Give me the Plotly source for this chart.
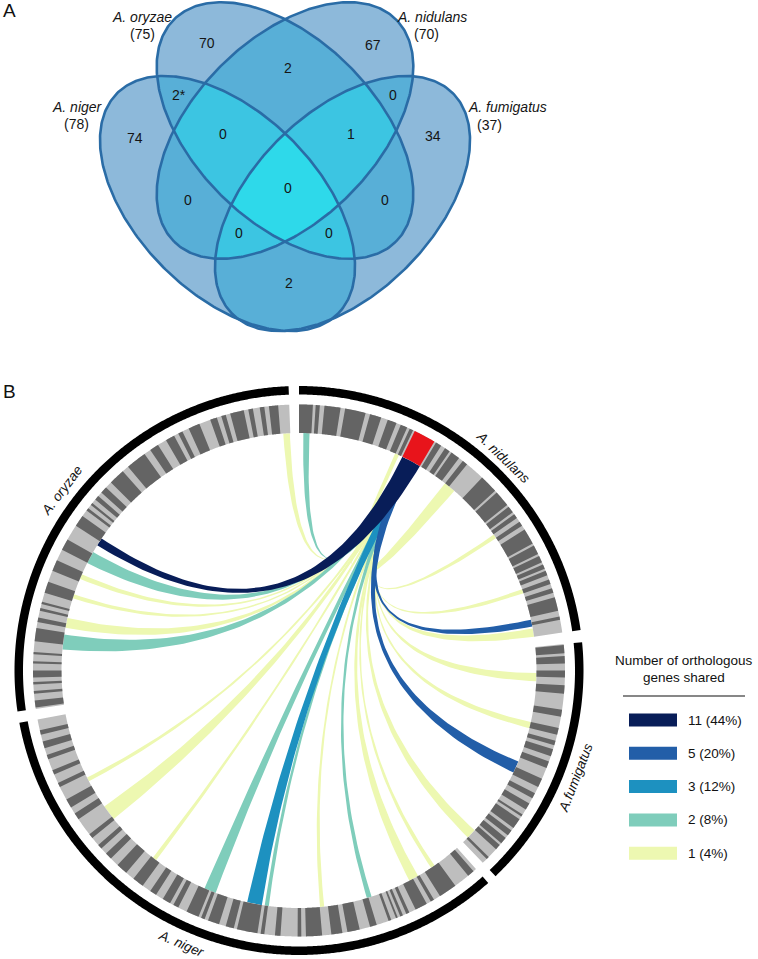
import numpy as np
import plotly.graph_objects as go

W, H = 758, 959

# ---------------- Panel A data (Venn) ----------------
venn_sets = ["A. niger", "A. oryzae", "A. nidulans", "A. fumigatus"]
venn_set_sizes = [78, 75, 70, 37]
venn_region_keys = ["O", "D", "OD", "NO", "DF", "N", "NOD", "ODF", "F",
                    "NODF", "ND", "OF", "NDF", "NOF", "NF"]
venn_region_values = ["70", "67", "2", "2*", "0", "74", "0", "1", "34",
                      "0", "0", "0", "0", "0", "2"]

# ---------------- Panel B data (circos) ----------------
genomes = ["A. nidulans", "A.fumigatus", "A. niger", "A. oryzae"]
genome_start_deg = [0.0, 84.3, 138.3, 261.7]
genome_end_deg = [81.8, 136.3, 259.4, 357.9]

nidulans_dark = [(0.0, 3.0), (3.6, 4.5), (5.5, 9.0), (10.0, 14.5), (15.5, 18.0),
                 (19.5, 21.5), (22.5, 24.0), (24.6, 25.4), (31.0, 32.3), (33.3, 34.5),
                 (35.0, 37.0), (38.0, 39.2), (43.5, 47.5), (48.0, 51.5), (52.0, 53.5),
                 (54.0, 55.0), (56.0, 57.0), (58.0, 61.5), (62.0, 64.0), (64.5, 66.0),
                 (66.5, 67.5), (68.0, 69.0), (70.0, 71.0), (72.0, 73.0), (74.0, 77.0),
                 (78.3, 79.0)]
fumigatus_dark = [(84.5, 86.3), (86.9, 88.5), (90.0, 91.5), (93.2, 95.0), (98.5, 100.0),
                  (102.5, 104.0), (105.3, 106.3), (107.2, 108.8), (110.0, 111.5),
                  (114.0, 116.0), (117.5, 118.7), (120.0, 121.5), (122.8, 123.3),
                  (124.0, 126.3), (127.0, 128.3), (129.0, 130.5), (131.0, 132.2),
                  (134.5, 135.1)]
niger_dark = [(139.0, 140.5), (144.0, 148.0), (149.5, 150.3), (151.3, 154.0),
              (155.5, 156.2), (157.0, 157.6), (158.2, 158.6), (159.7, 160.3),
              (163.0, 164.5), (166.8, 169.5), (170.6, 173.0), (175.0, 178.5),
              (179.5, 180.3), (184.0, 185.2), (187.5, 188.3), (189.0, 193.5),
              (194.2, 196.0), (197.5, 200.0), (200.8, 201.6), (202.2, 205.0),
              (207.0, 208.2), (209.0, 210.8), (212.5, 214.0), (216.0, 218.5),
              (220.5, 223.0), (225.0, 226.5), (228.0, 229.0), (231.0, 232.0),
              (236.0, 237.5), (239.0, 241.0), (244.0, 245.0), (247.0, 248.0),
              (250.5, 251.5), (253.0, 254.5), (256.0, 257.0)]
oryzae_dark = [(262.0, 263.5), (265.0, 265.6), (267.0, 267.5), (268.5, 270.0),
               (271.5, 272.0), (273.5, 274.0), (276.3, 279.2), (280.5, 281.5),
               (283.0, 283.6), (284.5, 285.0), (287.0, 289.5), (292.0, 294.5),
               (297.0, 299.5), (303.0, 305.5), (307.0, 307.6), (308.5, 309.0),
               (310.0, 311.0), (312.0, 313.5), (315.0, 318.5), (320.0, 324.5),
               (326.0, 328.0), (330.0, 332.0), (333.0, 334.0), (335.5, 338.0),
               (340.5, 342.0), (343.0, 344.0), (345.0, 348.0), (349.0, 350.0),
               (351.5, 352.5), (353.5, 355.5)]
genome_dark = [nidulans_dark, fumigatus_dark, niger_dark, oryzae_dark]

cluster_deg = [25.8, 30.6]   # A. nidulans cluster (red)

link_target_deg = [1.8, 24.4, 39.4, 55.6, 70.5, 78.5, 80.8, 91.6, 103.3, 114.0,
                   133.5, 145.7, 151.1, 162.8, 174.4, 187.8, 190.8, 202.0, 217.5,
                   233.2, 242.7, 276.9, 281.6, 288.2, 293.3, 298.4, 302.8, 357.0]
link_target_width = [1.5, 1.0, 2.9, 1.0, 1.0, 1.7, 2.0, 2.0, 1.5, 2.9,
                     2.4, 1.0, 2.4, 1.2, 1.0, 1.0, 3.6, 2.9, 1.0,
                     3.8, 1.0, 3.6, 2.4, 1.0, 1.2, 3.0, 2.0, 1.6]
link_genes = [2, 1, 1, 1, 1, 5, 1, 1, 1, 5,
              1, 1, 1, 2, 1, 2, 3, 2, 1,
              1, 1, 2, 1, 1, 1, 2, 11, 1]

legend_genes = [11, 5, 3, 2, 1]
legend_pct = [44, 20, 12, 8, 4]

# ---------------- styles / layout constants ----------------
FONT = "Arial, Liberation Sans, Helvetica, sans-serif"
venn_colors = ["#ffffff", "#8db9da", "#58afd7", "#3cc5e2", "#2ed9ea"]
venn_line = "#2a6ca6"
ELL = {"N": (227.5, 203.5, 156, 90.5, 45), "O": (285, 130.5, 157, 91, 45),
       "D": (285, 130.5, 157, 91, 135), "F": (342.5, 203.5, 156, 90.5, 135)}
set_code = ["N", "O", "D", "F"]
region_pos = {"O": (207, 43), "D": (373, 45), "OD": (288, 68), "NO": (179, 95),
              "DF": (393, 95), "N": (135, 138), "NOD": (223, 134), "ODF": (351, 134),
              "F": (433, 136), "NODF": (288, 188), "ND": (188, 200), "OF": (385, 200),
              "NDF": (239, 233), "NOF": (329, 233), "NF": (289, 283)}
set_label_pos = [(77, 107, 76, 124), (142, 16.5, 142.5, 34), (432, 16.5, 426, 34),
                 (507.5, 107, 489.5, 125)]

CX, CY = 299.0, 670.5
R_IN, R_OUT = 237.5, 266.0
R_K1, R_K2 = 276.0, 284.5
LIGHT, DARK = "#bebebe", "#646464"
link_colors = {11: "#081d58", 5: "#225ea8", 3: "#1d91c0", 2: "#7fcdbb", 1: "#edf8b1"}
genome_label_ang = [43.8, 111.1, 203.4, 307.2]
genome_label_r = [295.0, 296.5, 298.0, 297.6]
source_width = {11: 4.8, 5: 2.2, 3: 2.2, 2: 1.3, 1: 0.8}


def P(a, r):
    t = np.radians(a)
    return CX + r * np.sin(t), CY - r * np.cos(t)


def arc_pts(a1, a2, r):
    n = max(2, int(abs(a2 - a1) / 0.3) + 2)
    angs = np.linspace(a1, a2, n)
    t = np.radians(angs)
    return list(CX + r * np.sin(t)), list(CY - r * np.cos(t))


def band_path(a1, a2, r1, r2):
    xo, yo = arc_pts(a1, a2, r2)
    xi, yi = arc_pts(a2, a1, r1)
    xs, ys = xo + xi, yo + yi
    return "M " + " L ".join(f"{x:.2f},{y:.2f}" for x, y in zip(xs, ys)) + " Z"


def bez(p0, p2, n=70):
    t = np.linspace(0, 1, n)
    x = (1 - t) ** 2 * p0[0] + 2 * t * (1 - t) * CX + t ** 2 * p2[0]
    y = (1 - t) ** 2 * p0[1] + 2 * t * (1 - t) * CY + t ** 2 * p2[1]
    return list(x), list(y)


fig = go.Figure()

# ---------------- Venn (panel A) ----------------
xs = np.arange(92, 482)
ys = np.arange(0, 337)
XX, YY = np.meshgrid(xs, ys)
count = np.zeros_like(XX, dtype=np.int8)
for code in set_code:
    cx, cy, a, b, rot = ELL[code]
    th = np.radians(rot)
    dx, dy = XX - cx, YY - cy
    u = dx * np.cos(th) + dy * np.sin(th)
    v = -dx * np.sin(th) + dy * np.cos(th)
    count += ((u / a) ** 2 + (v / b) ** 2 <= 1).astype(np.int8)

cs = []
for i, c in enumerate(venn_colors):
    cs.append([i / 5, c])
    cs.append([(i + 1) / 5, c])
fig.add_trace(go.Heatmap(x=xs, y=ys, z=count, zmin=-0.5, zmax=4.5, colorscale=cs,
                         showscale=False, hoverinfo="skip", zsmooth=False))

tt = np.linspace(0, 2 * np.pi, 361)
for code in set_code:
    cx, cy, a, b, rot = ELL[code]
    th = np.radians(rot)
    ex = cx + a * np.cos(tt) * np.cos(th) - b * np.sin(tt) * np.sin(th)
    ey = cy + a * np.cos(tt) * np.sin(th) + b * np.sin(tt) * np.cos(th)
    fig.add_trace(go.Scatter(x=ex, y=ey, mode="lines", line=dict(color=venn_line, width=2.6),
                             hoverinfo="skip", showlegend=False))

ann = []
for key, val in zip(venn_region_keys, venn_region_values):
    x, y = region_pos[key]
    ann.append(dict(x=x, y=y, text=val, showarrow=False, font=dict(size=14, color="#151515", family=FONT)))
for name, size, (lx, ly, nx, ny) in zip(venn_sets, venn_set_sizes, set_label_pos):
    ann.append(dict(x=lx, y=ly, text=f"<i>{name}</i>", showarrow=False,
                    font=dict(size=14, color="#151515", family=FONT)))
    ann.append(dict(x=nx, y=ny, text=f"({size})", showarrow=False,
                    font=dict(size=14, color="#151515", family=FONT)))

# ---------------- Circos (panel B) ----------------
shapes = []
for s, e, dark in zip(genome_start_deg, genome_end_deg, genome_dark):
    shapes.append(dict(type="path", path=band_path(s, e, R_IN, R_OUT), fillcolor=LIGHT,
                       line=dict(width=0), layer="above"))
    for a1, a2 in dark:
        a1 = max(a1, s)
        a2 = min(a2, e)
        shapes.append(dict(type="path", path=band_path(a1, a2, R_IN, R_OUT), fillcolor=DARK,
                           line=dict(width=0), layer="above"))
    shapes.append(dict(type="path", path=band_path(s, e, R_K1, R_K2), fillcolor="#000000",
                       line=dict(width=0), layer="above"))
shapes.append(dict(type="path", path=band_path(cluster_deg[0], cluster_deg[1], R_IN, R_OUT),
                   fillcolor="#e8141b", line=dict(width=0), layer="above"))

src_c = (cluster_deg[0] + cluster_deg[1]) / 2
order = sorted(range(len(link_genes)), key=lambda i: link_genes[i])
for i in order:
    g = link_genes[i]
    sw = source_width[g]
    s1, s2 = src_c - sw / 2, src_c + sw / 2
    t1 = link_target_deg[i] - link_target_width[i] / 2
    t2 = link_target_deg[i] + link_target_width[i] / 2
    ax, ay = arc_pts(s1, s2, R_IN)
    b1x, b1y = bez(P(s2, R_IN), P(t1, R_IN))
    cx_, cy_ = arc_pts(t1, t2, R_IN)
    b2x, b2y = bez(P(t2, R_IN), P(s1, R_IN))
    px = ax + b1x + cx_ + b2x
    py = ay + b1y + cy_ + b2y
    fig.add_trace(go.Scatter(x=px, y=py, mode="lines", fill="toself",
                             fillcolor=link_colors[g], line=dict(width=0, color=link_colors[g]),
                             hoverinfo="skip", showlegend=False))

for name, ang, r in zip(genomes, genome_label_ang, genome_label_r):
    x, y = P(ang, r)
    ta = ang if (ang < 90 or ang > 270) else ang - 180
    if ta > 180:
        ta -= 360
    ann.append(dict(x=x, y=y, text=f"<i>{name}</i>", showarrow=False, textangle=ta,
                    font=dict(size=13.5, color="#111111", family=FONT)))

# panel letters
ann.append(dict(x=9, y=10.5, text="A", showarrow=False, font=dict(size=19, color="#111", family=FONT)))
ann.append(dict(x=9, y=391.5, text="B", showarrow=False, font=dict(size=19, color="#111", family=FONT)))

# ---------------- legend ----------------
ann.append(dict(x=684, y=660, text="Number of orthologous", showarrow=False,
                font=dict(size=13.5, color="#111", family=FONT)))
ann.append(dict(x=684, y=677, text="genes shared", showarrow=False,
                font=dict(size=13.5, color="#111", family=FONT)))
shapes.append(dict(type="line", x0=623, x1=745, y0=696, y1=696, line=dict(color="#111", width=1.2)))
for k, (g, p) in enumerate(zip(legend_genes, legend_pct)):
    yc = 720 + k * 33.3
    shapes.append(dict(type="rect", x0=629, x1=677, y0=yc - 6.5, y1=yc + 6.5,
                       fillcolor=link_colors[g], line=dict(width=0)))
    ann.append(dict(x=686, y=yc, text=f"{g} ({p}%)", showarrow=False, xanchor="left",
                    font=dict(size=13.5, color="#111", family=FONT)))

fig.update_layout(
    width=W, height=H, margin=dict(l=0, r=0, t=0, b=0),
    paper_bgcolor="white", plot_bgcolor="white", showlegend=False,
    xaxis=dict(range=[0, W], visible=False, fixedrange=True),
    yaxis=dict(range=[H, 0], visible=False, fixedrange=True),
    shapes=shapes, annotations=ann,
)
fig.write_html("out.html", config={"displayModeBar": False},
               post_script="document.body.style.margin='0';document.body.style.overflow='hidden';")
